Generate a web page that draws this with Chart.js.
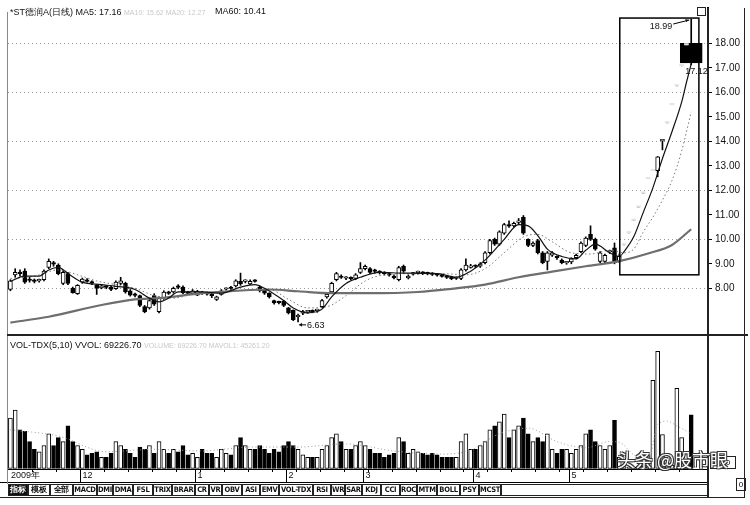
<!DOCTYPE html>
<html>
<head>
<meta charset="utf-8">
<script src="https://cdn.jsdelivr.net/npm/chart.js@4"></script>
<style>
  body { margin: 0; background: #fff; }
  #wrap { position: relative; width: 750px; height: 505px; overflow: hidden; font-family: "Liberation Sans", Arial, sans-serif; }
  canvas { position: absolute; left: 0; }
  .hd { position: absolute; font-size: 9px; white-space: nowrap; color: #111; }
  .faded { color: #c8c8c8; font-size: 7px; }
  .ln { position: absolute; background: #222; }
  .btn { position: absolute; top: 484px; height: 12px; line-height: 11px; border: 1px solid #222; box-sizing: border-box;
         font: bold 7.5px "DejaVu Sans Condensed", "Liberation Sans Narrow", sans-serif; letter-spacing: -0.3px; text-align: center; color: #111; overflow: hidden; white-space: nowrap; }
  .btn.on { background: #111; color: #fff; }
  #mark { position: absolute; left: 617px; top: 446px; font: 18px "Noto Sans CJK SC", sans-serif; color: #fff;
          text-shadow: 1px 1px 0 #333, -1px -1px 0 #333, 1px -1px 0 #333, -1px 1px 0 #333; white-space: nowrap; }
</style>
</head>
<body>
<div id="wrap">
  <canvas id="price" width="750" height="345" style="top:-1px"></canvas>
  <canvas id="vol" width="750" height="153" style="top:331px"></canvas>

  <div class="hd" style="left:10px;top:6px">*ST德润A(日线) MA5: 17.16 <span class="faded">MA10: 15.62 MA20: 12.27</span></div>
  <div class="hd" style="left:215px;top:6px">MA60: 10.41</div>
  <div class="hd" style="left:10px;top:340px">VOL-TDX(5,10) VVOL: 69226.70 <span class="faded">VOLUME: 69226.70 MAVOL1: 45261.20</span></div>

  <div class="ln" style="left:7px;top:12px;width:1px;height:472px;background:#888"></div>
  <div class="ln" style="left:7px;top:334px;width:741px;height:2px"></div>
  <div class="ln" style="left:744px;top:8px;width:1px;height:490px"></div>
  <div class="ln" style="left:707px;top:8px;width:2px;height:490px"></div>
  <div class="ln" style="left:0;top:497px;width:745px;height:1px"></div>
  <div style="position:absolute;left:697px;top:7px;width:7px;height:7px;border:1px solid #222"></div>
  <div style="position:absolute;left:710px;top:456px;width:24px;height:11px;border:1px solid #222;font-size:8px;line-height:11px;text-align:center">X10</div>
  <div style="position:absolute;left:736px;top:478px;width:8px;height:11px;border:1px solid #222;font-size:8px;line-height:11px;text-align:center">0</div>
  <div id="bar"></div>
  <div id="mark">头条 @股市眼</div>
</div>

<script>
// daily candles, index 0 = first bar on the left
const opens = [7.95,8.55,8.62,8.70,8.35,8.30,8.30,8.35,8.85,9.05, 8.95,8.20,8.60,8.00,7.78,8.25,8.33,8.23,8.12,8.02,
  8.06,8.05,7.98,8.20,8.20,7.90,7.74,7.70,7.25,7.20, 7.70,7.05,7.60,7.82,7.85,8.06,8.05,7.82,7.78,7.72,
  7.82,7.80,7.73,7.55,7.75,7.96,8.01,8.10,8.28,8.28, 8.18,8.31,8.05,7.92,7.80,7.50,7.43,7.48,7.20,7.10,
  6.84,6.98,7.04,7.06,7.09,7.25,7.65,7.85,8.35,8.47, 8.41,8.42,8.40,8.65,8.80,8.80,8.71,8.66,8.61,8.56,
  8.50,8.35,8.90,8.42,8.58,8.64,8.63,8.61,8.59,8.56, 8.55,8.46,8.41,8.40,8.40,8.75,8.85,8.91,8.90,9.05,
  9.45,10.00,9.80,10.25,10.56,10.55,10.69,10.90,10.00,9.75, 9.95,9.45,9.10,9.35,9.27,9.15,9.04,9.08,9.25,9.50,
  9.75,10.20,10.00,9.10,9.10,9.48,9.65,9.10,9.77,10.26, 10.77,11.31,11.88,12.47,12.80,12.80,14.02,14.75,15.49,16.26,
  17.08,17.93,18.00];
const highs = [8.35,8.80,8.75,8.80,8.45,8.38,8.38,8.75,9.20,9.10, 9.00,8.70,8.65,8.05,8.15,8.42,8.40,8.30,8.15,8.15,
  8.12,8.10,8.30,8.45,8.25,7.95,7.80,7.72,7.30,7.55, 7.78,7.65,7.90,7.88,8.05,8.15,8.10,7.88,7.95,7.92,
  7.88,7.85,7.80,7.68,7.95,8.02,8.08,8.35,8.62,8.35, 8.35,8.36,8.10,7.95,7.82,7.52,7.48,7.50,7.22,7.12,
  6.95,7.10,7.10,7.12,7.15,7.55,7.80,8.25,8.65,8.55, 8.48,8.47,8.60,9.05,8.95,8.85,8.78,8.72,8.68,8.62,
  8.55,8.90,8.95,8.55,8.65,8.70,8.68,8.66,8.64,8.61, 8.58,8.52,8.46,8.47,8.80,9.20,8.98,8.96,9.05,9.50,
  10.00,10.05,10.35,10.65,10.75,10.70,10.85,10.97,10.02,9.90, 10.00,9.50,9.50,9.50,9.33,9.20,9.10,9.25,9.40,9.90,
  10.10,10.55,10.05,9.50,9.40,9.56,9.85,9.40,9.77,10.26, 10.77,11.31,11.88,12.47,12.80,13.38,14.05,14.75,15.49,16.26,
  17.08,17.93,18.99];
const lows = [7.90,8.45,8.50,8.20,8.25,8.22,8.25,8.30,8.80,8.90, 8.55,8.15,8.15,7.80,7.75,8.20,8.25,8.15,7.75,7.98,
  7.98,7.90,7.95,8.15,7.80,7.68,7.65,7.25,7.00,7.15, 7.30,7.00,7.55,7.75,7.80,7.98,7.78,7.75,7.75,7.70,
  7.75,7.72,7.62,7.50,7.72,7.92,7.95,8.05,8.12,8.22, 8.15,8.25,7.85,7.75,7.60,7.35,7.36,7.25,6.95,6.68,
  6.63,6.92,6.98,7.00,7.02,7.20,7.60,7.80,8.30,8.40, 8.35,8.34,8.35,8.60,8.75,8.60,8.62,8.58,8.54,8.50,
  8.38,8.30,8.65,8.38,8.54,8.58,8.56,8.55,8.52,8.50, 8.45,8.40,8.35,8.36,8.35,8.70,8.82,8.84,8.85,9.00,
  9.40,9.75,9.75,10.20,10.48,10.50,10.60,10.20,9.70,9.70, 9.40,9.00,8.75,9.30,9.18,9.00,8.98,9.00,9.20,9.45,
  9.70,9.95,9.55,9.05,9.05,9.42,9.00,9.05,9.77,10.26, 10.77,11.31,11.88,12.47,12.80,12.55,13.65,14.75,15.49,16.26,
  17.08,17.93,17.12];
const closes = [8.30,8.65,8.60,8.25,8.32,8.28,8.33,8.70,9.10,8.98, 8.60,8.65,8.20,7.82,8.12,8.38,8.28,8.21,8.00,8.10,
  8.04,7.95,8.25,8.30,7.85,7.72,7.71,7.30,7.05,7.50, 7.35,7.60,7.85,7.79,8.00,8.04,7.82,7.79,7.90,7.88,
  7.79,7.76,7.70,7.65,7.90,7.99,7.99,8.30,8.18,8.31, 8.28,8.28,7.90,7.80,7.65,7.40,7.41,7.30,7.00,6.72,
  6.86,7.05,7.07,7.04,7.12,7.50,7.75,8.20,8.60,8.44, 8.43,8.39,8.55,8.80,8.90,8.65,8.69,8.64,8.60,8.54,
  8.42,8.85,8.70,8.50,8.61,8.66,8.61,8.59,8.57,8.54, 8.48,8.44,8.39,8.43,8.75,8.95,8.92,8.89,9.00,9.45,
  9.95,9.80,10.30,10.60,10.54,10.65,10.71,10.25,9.75,9.85, 9.45,9.05,9.45,9.45,9.24,9.05,9.06,9.20,9.35,9.85,
  10.05,10.00,9.60,9.45,9.35,9.51,9.05,9.30,9.77,10.26, 10.77,11.31,11.88,12.47,12.80,13.37,14.05,14.75,15.49,16.26,
  17.08,17.93,17.20];
const volumes = [6500,7500,5000,4800,3500,2500,2200,3000,4500,3000, 4000,3500,5500,3500,3000,2500,1800,2000,2200,1500,
  1500,2000,3500,3000,2500,2000,1500,2800,2500,3000, 2000,3500,2500,2000,2500,2200,3000,1800,2000,1500,
  2500,2000,2000,1500,2500,2000,1800,3000,4000,3000, 2500,2500,3000,2500,2000,2500,2200,3000,3500,3000,
  2500,1800,1500,1500,1500,2500,3000,4000,4500,3500, 2500,2500,3000,3500,3000,2500,2000,2000,1500,1800,
  2000,4000,3500,2000,2500,2200,2000,1800,2000,1800, 1500,1500,1500,1500,3500,4500,2500,2500,3000,3500,
  5000,5500,6000,7000,4000,5000,5500,6500,4500,3500, 4000,3500,4500,2500,2000,2500,2500,2000,2500,3000,
  4500,5000,3500,3000,2500,3000,6200,1500,300,250, 250,300,350,1700,11300,15000,4400,600,500,10300,
  4000,600,6923];

// moving averages: [bar index, value]
const ma5Idx = [0,3,6,8,10,12,15,19,22,26,29,31,33,35,40,44,48,51,53,57,59,62,65,67,70,73,77,82,89,93,96,99,103,106,108,110,112,115,118,120,122,125,127,128,130,132,134,136,138,140,141,142];
const ma5Val = [8.28,8.5,8.5,8.75,8.85,8.6,8.25,8.15,8.08,7.95,7.6,7.45,7.6,7.85,7.85,7.8,8.05,8.15,8.0,7.5,7.2,7.0,7.15,7.65,8.2,8.45,8.65,8.62,8.6,8.45,8.7,9.15,10.0,10.6,10.55,10.15,9.6,9.3,9.2,9.55,9.8,9.45,9.3,9.5,10.1,11.1,12.1,13.3,14.4,15.6,16.4,17.16];
const ma10Idx = [0,5,10,14,18,22,26,30,34,38,44,50,54,58,62,66,70,74,78,84,90,95,99,103,107,110,113,117,121,125,128,130,132,134,136,138,140,142];
const ma10Val = [8.4,8.5,8.75,8.55,8.3,8.15,8.0,7.7,7.6,7.75,7.82,7.95,7.95,7.55,7.2,7.25,7.7,8.3,8.55,8.6,8.6,8.55,8.8,9.45,10.1,10.2,9.9,9.45,9.4,9.55,9.45,9.6,10.3,10.9,11.6,12.4,13.6,15.2];
const ma60Idx = [0,8,19,26,31,40,50,54,60,67,75,85,92,99,106,113,120,127,133,138,142];
const ma60Val = [6.6,6.84,7.32,7.55,7.6,7.8,7.93,7.95,7.88,7.8,7.8,7.85,7.98,8.15,8.45,8.68,8.9,9.11,9.42,9.77,10.41];
const mavolIdx = [0,10,20,30,40,50,60,70,80,90,96,102,108,114,120,125,127,130,133,135,137,139,142];
const mavolVal = [5000,4200,2200,2500,2300,2800,2800,3200,2300,1900,2400,4500,5200,3500,2700,3500,3400,1800,700,5700,6100,5500,4526];

const priceTicks = [8,9,10,11,12,13,14,15,16,17,18];
const volTicks = [5000,7500,10000,12500,15000];
const monthStarts = [15,39,58,74,97,117];
const monthLabels = ['12','1','2','3','4','5'];
const buttons = ['指标','模板','全部','MACD','DMI','DMA','FSL','TRIX','BRAR','CR','VR','OBV','ASI','EMV','VOL-TDX','RSI','WR','SAR','KDJ','CCI','ROC','MTM','BOLL','PSY','MCST',''];
const buttonEdges = [8,28,50,73,97,113,133,153,172,195,209,222,242,260,279,313,331,345,362,381,400,417,437,460,479,501,708];

const slots = Array.from({length: 146}, (_, i) => i);
const last = closes.length - 1;
const isUp = i => closes[i] >= opens[i];
const isFlat = i => highs[i] === lows[i];
const pts = (idx, val) => idx.map((i, k) => ({x: i, y: val[k]}));

const bodies = opens.map((o, i) => i === last ? null : [Math.min(o, closes[i]), Math.max(o, closes[i])]);
const lastBody = opens.map((o, i) => i === last ? [Math.min(o, closes[i]), Math.max(o, closes[i])] : null);
const wicks = lows.map((l, i) => [l, highs[i]]);
const font = {family: 'Liberation Sans', size: 10};

const notes = {
  id: 'notes',
  afterDatasetsDraw(chart) {
    const {ctx, scales: {x, y}} = chart;
    ctx.save();
    ctx.strokeStyle = '#000';
    ctx.lineWidth = 1.5;
    const bx0 = x.getPixelForValue(127.1), bx1 = x.getPixelForValue(143.6);
    const by0 = y.getPixelForValue(19.03), by1 = y.getPixelForValue(8.55);
    ctx.strokeRect(bx0, by0, bx1 - bx0, by1 - by0);

    ctx.fillStyle = '#111';
    ctx.font = '9px "Liberation Sans"';
    ctx.lineWidth = 1;
    // highest price
    const hx = x.getPixelForValue(last), hy = y.getPixelForValue(highs[last]);
    ctx.textAlign = 'right';
    ctx.fillText(highs[last].toFixed(2), hx - 19, hy + 10);
    ctx.beginPath(); ctx.moveTo(hx - 18, hy + 5); ctx.lineTo(hx - 2, hy + 1); ctx.stroke();
    ctx.beginPath(); ctx.moveTo(hx - 2, hy + 1); ctx.lineTo(hx - 6, hy); ctx.lineTo(hx - 5, hy + 3); ctx.fill();
    // low of the last bar
    ctx.textAlign = 'left';
    ctx.fillText(lows[last].toFixed(2), hx - 6, y.getPixelForValue(lows[last]) + 9);
    // lowest price
    let lo = 0;
    lows.forEach((v, i) => { if (v < lows[lo]) lo = i; });
    const lx = x.getPixelForValue(lo), ly = y.getPixelForValue(lows[lo]) + 3;
    ctx.beginPath(); ctx.moveTo(lx + 1, ly); ctx.lineTo(lx + 8, ly); ctx.stroke();
    ctx.beginPath(); ctx.moveTo(lx + 1, ly); ctx.lineTo(lx + 4, ly - 2); ctx.lineTo(lx + 4, ly + 2); ctx.fill();
    ctx.fillText(lows[lo].toFixed(2), lx + 9, ly + 3);
    ctx.restore();
  }
};

new Chart(document.getElementById('price'), {
  type: 'bar',
  data: {
    labels: slots,
    datasets: [
      {type: 'line', data: pts(ma5Idx, ma5Val), borderColor: '#111', borderWidth: 1.2, pointRadius: 0, cubicInterpolationMode: 'monotone', order: 0},
      {type: 'line', data: pts(ma10Idx, ma10Val), borderColor: '#777', borderWidth: 1, borderDash: [1.5, 2.5], pointRadius: 0, cubicInterpolationMode: 'monotone', order: 0},
      {type: 'line', data: pts(ma60Idx, ma60Val), borderColor: '#6e6e6e', borderWidth: 2.2, pointRadius: 0, cubicInterpolationMode: 'monotone', order: 0},
      {data: bodies, grouped: false, barThickness: 4, minBarLength: 1.5, borderSkipped: false,
       borderWidth: bodies.map((b, i) => isFlat(i) ? 0 : 1), borderColor: '#000',
       backgroundColor: bodies.map((b, i) => isFlat(i) ? '#e4e4e4' : (isUp(i) ? '#fff' : '#000')), order: 2},
      {data: lastBody, grouped: false, barThickness: 22, borderSkipped: false, borderWidth: 1, borderColor: '#000', backgroundColor: '#000', order: 2},
      {data: wicks, grouped: false, barThickness: 1, backgroundColor: '#000', borderWidth: 0, order: 3}
    ]
  },
  options: {
    responsive: false, animation: false, events: [],
    layout: {padding: {left: 8, top: 0, right: 0, bottom: 0}},
    plugins: {legend: {display: false}, tooltip: {enabled: false}},
    scales: {
      x: {display: false, offset: true},
      y: {
        position: 'right', min: 6.094, max: 19.44,
        afterFit: s => { s.width = 42; },
        ticks: {stepSize: 1, font, color: '#111', padding: 3,
                callback: v => priceTicks.includes(v) ? v.toFixed(2) : ''},
        grid: {tickLength: 4, lineWidth: 1,
               color: c => (priceTicks.includes(c.tick.value) && c.tick.value % 2 === 0) ? '#9a9a9a' : 'rgba(0,0,0,0)',
               tickColor: c => priceTicks.includes(c.tick.value) ? '#000' : 'rgba(0,0,0,0)'},
        border: {display: true, color: '#000', width: 2, dash: [1, 3]}
      }
    }
  },
  plugins: [notes]
});

const dateStrip = {
  id: 'dateStrip',
  afterDraw(chart) {
    const {ctx, chartArea: a, scales: {x}} = chart;
    const step = x.getPixelForValue(1) - x.getPixelForValue(0);
    ctx.save();
    ctx.strokeStyle = '#000';
    ctx.lineWidth = 1;
    ctx.beginPath(); ctx.moveTo(a.left, a.bottom + 0.5); ctx.lineTo(a.right, a.bottom + 0.5); ctx.stroke();
    ctx.beginPath(); ctx.moveTo(0, a.bottom + 13.5); ctx.lineTo(a.right, a.bottom + 13.5); ctx.stroke();
    ctx.fillStyle = '#111';
    ctx.font = '9px "Liberation Sans"';
    ctx.textBaseline = 'middle';
    ctx.fillText('2009年', a.left + 3, a.bottom + 7);
    for (let i = 5; i < 143; i += 5) {
      const px = Math.round(x.getPixelForValue(i) - step / 2) + 0.5;
      ctx.beginPath(); ctx.moveTo(px, a.bottom); ctx.lineTo(px, a.bottom + 3); ctx.stroke();
    }
    monthStarts.forEach((m, k) => {
      const px = Math.round(x.getPixelForValue(m) - step / 2) + 0.5;
      ctx.beginPath(); ctx.moveTo(px, a.bottom); ctx.lineTo(px, a.bottom + 13); ctx.stroke();
      ctx.fillText(monthLabels[k], px + 2, a.bottom + 7);
    });
    ctx.restore();
  }
};

new Chart(document.getElementById('vol'), {
  type: 'bar',
  data: {
    labels: slots,
    datasets: [
      {type: 'line', data: pts(mavolIdx, mavolVal), borderColor: '#9c9c9c', borderWidth: 1, borderDash: [1, 2.5], pointRadius: 0, cubicInterpolationMode: 'monotone', order: 0},
      {data: volumes, barThickness: 4, borderWidth: 1, borderColor: '#000', borderSkipped: false,
       backgroundColor: volumes.map((v, i) => isUp(i) ? '#fff' : '#000'), order: 1}
    ]
  },
  options: {
    responsive: false, animation: false, events: [],
    layout: {padding: {left: 8, top: 0, right: 0, bottom: 15}},
    plugins: {legend: {display: false}, tooltip: {enabled: false}},
    scales: {
      x: {display: false, offset: true},
      y: {
        position: 'right', min: 0, max: 16450,
        afterFit: s => { s.width = 42; },
        ticks: {stepSize: 2500, font, color: '#111', padding: 3,
                callback: v => volTicks.includes(v) ? v : ''},
        grid: {tickLength: 4,
               color: c => (c.tick.value > 0 && c.tick.value % 5000 === 0) ? '#9a9a9a' : 'rgba(0,0,0,0)',
               tickColor: c => volTicks.includes(c.tick.value) ? '#000' : 'rgba(0,0,0,0)'},
        border: {display: true, color: '#000', width: 2, dash: [1, 3]}
      }
    }
  },
  plugins: [dateStrip]
});

// indicator buttons under the chart
const bar = document.getElementById('bar');
buttons.forEach((b, i) => {
  const d = document.createElement('div');
  d.className = 'btn' + (i === 0 ? ' on' : '');
  d.style.left = buttonEdges[i] + 'px';
  d.style.width = (buttonEdges[i + 1] - buttonEdges[i]) + 'px';
  d.textContent = b;
  bar.appendChild(d);
});
</script>
</body>
</html>
